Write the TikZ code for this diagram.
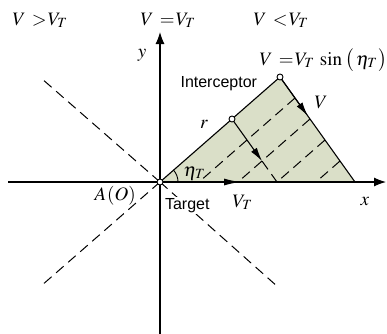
\documentclass[tikz,border=0pt]{standalone}
\usepackage{mathptmx}
\usepackage[no-math]{fontspec}
\newfontfamily\arialf{Liberation Sans}
\usetikzlibrary{arrows.meta,calc}
\definecolor{fillg}{RGB}{218,223,200}
\begin{document}
\begin{tikzpicture}[x=1pt,y=-1pt, line width=1.1pt,
  mathlbl/.style={font=\fontsize{19}{21}\selectfont, inner sep=0pt},
  sanslbl/.style={font=\arialf\fontsize{16}{18}\selectfont, inner sep=0pt},
  dline/.style={dash pattern=on 10pt off 6pt, line width=1pt},
  ptmark/.style={circle, draw, fill=white, inner sep=0pt, minimum size=6pt, line width=0.9pt},
  axarrow/.style={-{Latex[length=12pt,width=9pt]}},
  varrow/.style={-{Latex[length=14pt,width=7pt]}}]
\useasboundingbox (0,0) rectangle (387,333);
% key points
\coordinate (O) at (160,182);
\coordinate (A) at (280,77);
\coordinate (B) at (355,182);
\coordinate (xs) at (8,182);
\coordinate (xe) at (386,182);
\coordinate (ys) at (160,334);
\coordinate (ye) at (160,32);
\coordinate (ul) at (41,78);
\coordinate (ll) at (41,286);
\coordinate (lr) at (278,287);
\coordinate (R) at ($(O)!0.6!(A)$);
\coordinate (F) at ($(O)!0.6!(B)$);
\coordinate (Rt) at ($(R)!0.67!(F)$);
\coordinate (Vt) at ($(A)!0.37!(B)$);
\coordinate (VTt) at (240,182);
% triangle fill
\fill[fillg] (O) -- (A) -- (B) -- cycle;
% inner dashed lines parallel to OA
\foreach \t in {0.2,0.4,0.6,0.8}
  \draw[dline] ($(A)!\t!(B)$) -- ($(O)!\t!(B)$);
% triangle edges
\draw (O) -- (A) -- (B);
% X dashed lines
\draw[dline] (O) -- (ul);
\draw[dline] (O) -- (ll);
\draw[dline] (O) -- (lr);
% axes
\draw[axarrow] (xs) -- (xe);
\draw[axarrow] (ys) -- (ye);
% velocity arrows
\draw[varrow] (A) -- (Vt);
\draw[varrow] (R) -- (Rt);
\draw[dline] (Rt) -- (F);
\draw[-{Latex[length=16pt,width=7pt]}] (O) -- (VTt);
% angle arc
\draw[line width=0.9pt] ($(O)+(18,0)$) arc[start angle=0, end angle=-41.2, radius=18];
% points
\node[ptmark] (pO) at (O) {};
\node[ptmark] (pA) at (A) {};
\node[ptmark] (pR) at (R) {};
% labels
\node[mathlbl, anchor=base west] (l1) at (12,25) {$V\mskip6mu{>}\mskip1mu V_T$};
\node[mathlbl, anchor=base west] (l2) at (140,25) {$V\mskip6mu{=}\mskip1mu V_T$};
\node[mathlbl, anchor=base west] (l3) at (253,25) {$V\mskip6mu{<}\mskip1mu V_T$};
\node[mathlbl, anchor=base] (ly) at (142,57) {$y$};
\node[mathlbl, anchor=base west] (lsin) at (259,65) {$V\mskip6mu{=}\mskip1mu V_T\mskip5mu\mathrm{sin}\mskip3mu\bigl(\mskip2mu\eta_T\mskip1mu\bigr)$};
\node[mathlbl, anchor=base] (lr) at (204,128) {$r$};
\node[mathlbl, anchor=base west] (lV) at (314,108) {$V$};
\node[mathlbl, anchor=base west] (leta) at (183,176) {$\eta_T$};
\node[mathlbl, anchor=base west] (lAO) at (94,200) {$A\mskip1mu(O)$};
\node[mathlbl, anchor=base west] (lVT) at (232,207) {$V_T$};
\node[mathlbl, anchor=base west] (lx) at (360,205) {$x$};
\node[sanslbl, anchor=base west] (lint) at (180,87) {Interceptor};
\node[sanslbl, anchor=base west, fill=white, inner sep=1.5pt] (ltar) at (163,209.5) {Target};
\end{tikzpicture}
\end{document}
